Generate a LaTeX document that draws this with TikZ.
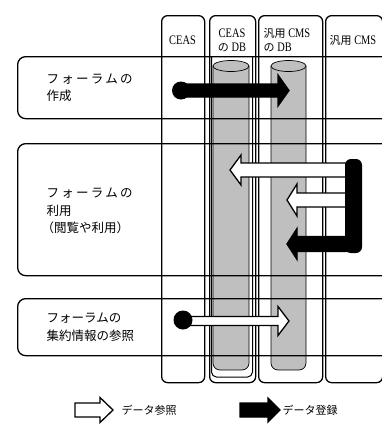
\documentclass[tikz,border=0pt]{standalone}
\usepackage{fontspec}
\setmainfont{Liberation Serif}
\newfontfamily\jpfont{Noto Sans CJK JP}
\newfontfamily\jpwide{Noto Sans CJK JP}[LetterSpace=18]
\newfontfamily\hdfont{Liberation Serif}[FakeStretch=0.8]
\usetikzlibrary{positioning}

% style, start x, tip x, y, shaft half, head half, head length
\newcommand{\blockarrow}[7]{%
  \draw[#1] ({#2},{#4-#5}) -- ({#3-(#7)},{#4-#5}) -- ({#3-(#7)},{#4-#6}) -- ({#3},{#4})
    -- ({#3-(#7)},{#4+#6}) -- ({#3-(#7)},{#4+#5}) -- ({#2},{#4+#5}) -- cycle;}

\begin{document}
\begin{tikzpicture}[x=1pt, y=-1pt, line width=1.3pt,
  every node/.style={inner sep=0pt},
  lane/.style={draw, rounded corners=6pt, anchor=north west, minimum height=367pt},
  rowbox/.style={draw, rounded corners=8pt, anchor=north west, minimum width=380pt},
  rowtext/.style={font=\jpfont\fontsize{12.5}{17.5}\selectfont, align=left, anchor=west},
  hdtext/.style={font=\hdfont\fontsize{13}{14}\selectfont, align=center},
  dbcyl/.style={fill=black!25, draw, line width=0.7pt},
  readarrow/.style={fill=white, draw, line width=1.3pt},
  writearrow/.style={fill=black, draw, line width=1.3pt},
  legtext/.style={font=\jpfont\fontsize{11}{13}\selectfont, anchor=west}]

  \useasboundingbox (0,0) rectangle (382,429);
  \clip (0,0) rectangle (382,429);

  % swim lanes
  \node[lane, minimum width=43pt] (ceas) at (161,15) {};
  \node[lane, minimum width=46pt] (ceasdb) at (209,15) {};
  \node[lane, minimum width=64pt] (cmsdb) at (258,15) {};
  \node[lane, minimum width=57pt] (cms) at (325,15) {};
  \draw[line width=1pt, rounded corners=5pt] (211.5,56) -- (211.5,377) -- (252.5,377) -- (252.5,56);

  \node[hdtext] (ceaslbl) at (182.5,40) {CEAS};
  \node[hdtext] (ceasdblbl) at (232,40) {CEAS\\{\jpfont\fontsize{11}{14}\selectfont の} DB};
  \node[hdtext, align=left, anchor=west] (cmsdblbl) at (263,40)
    {{\jpfont\fontsize{11}{14}\selectfont 汎用} CMS\\{\jpfont\fontsize{11}{14}\selectfont の} DB};
  \node[hdtext, anchor=west] (cmslbl) at (329,40) {{\jpfont\fontsize{11}{14}\selectfont 汎用} CMS};

  % databases
  \draw[dbcyl, rounded corners=7pt] (213,66) -- (213,370) -- (249,370) -- (249,66);
  \draw[dbcyl] (231,66) ellipse [x radius=18, y radius=5.5];
  \draw[dbcyl, rounded corners=7pt] (271,66) -- (271,370) -- (306,370) -- (306,66);
  \draw[dbcyl] (288.5,66) ellipse [x radius=17.5, y radius=5.5];

  % use cases
  \node[rowbox, minimum height=62pt] (create) at (17,56) {};
  \node[rowbox, minimum height=132pt] (use) at (17,143) {};
  \node[rowbox, minimum height=57pt] (summary) at (17,298) {};

  \node[rowtext, right=29pt of create.west] (createtxt)
    {{\jpwide フォーラムの}\\作成};
  \node[rowtext, right=29pt of use.west, yshift=-1.5pt] (usetxt)
    {{\jpwide フォーラムの}\\利用\\\kern-5pt（閲覧や利用）};
  \node[rowtext, right=29pt of summary.west] (summarytxt)
    {フォーラムの\\集約情報の参照};

  % flows
  \blockarrow{writearrow}{181}{289}{90.5}{6.5}{15.5}{11}
  \fill (181,90.5) circle [radius=9];

  \blockarrow{readarrow}{350}{230}{170}{7}{15}{-11}
  \blockarrow{readarrow}{350}{287}{200}{7}{16}{-10}
  \blockarrow{writearrow}{350}{287}{244}{7.5}{15.5}{-10}
  \fill[rounded corners=6pt] (345,159) rectangle (362,253);

  \blockarrow{readarrow}{183}{289}{321}{4.5}{14.5}{11}
  \fill (183,320) circle [radius=9.5];

  % legend
  \blockarrow{readarrow}{75}{113}{410}{7}{12.5}{13}
  \node[legtext] (readlbl) at (121,410) {データ参照};
  \blockarrow{writearrow}{240}{280}{410}{7}{12}{12}
  \node[legtext] (writelbl) at (282,410) {データ登録};
\end{tikzpicture}
\end{document}
